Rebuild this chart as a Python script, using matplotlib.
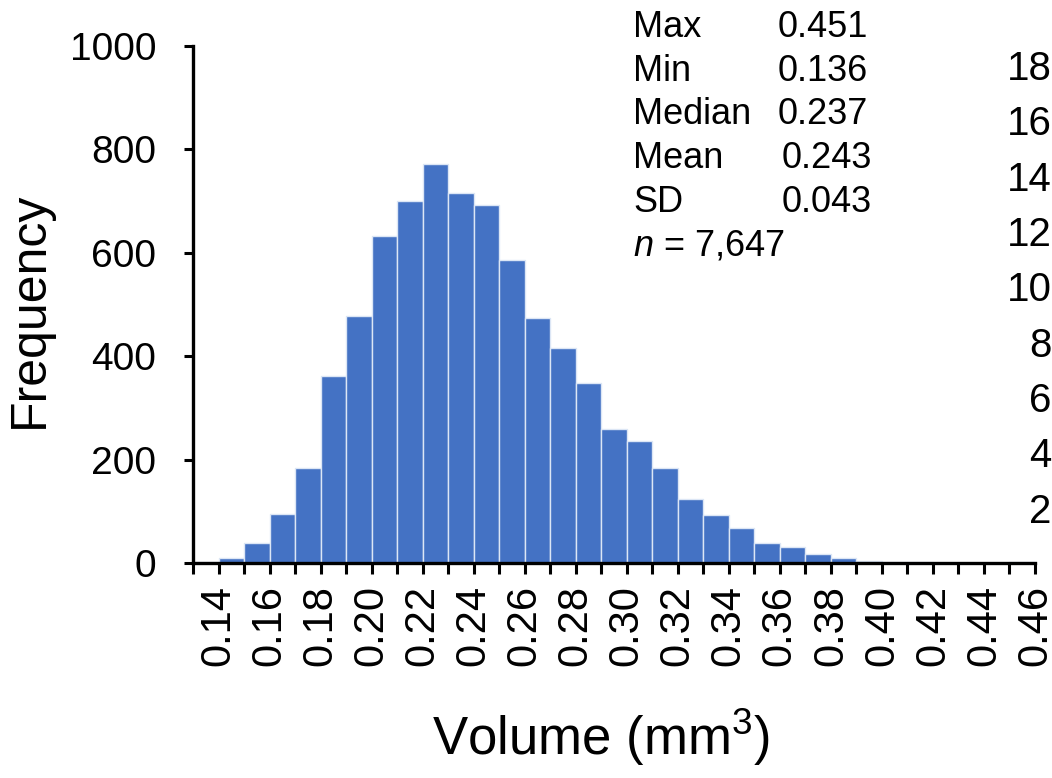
import matplotlib
matplotlib.use("Agg")
import matplotlib.pyplot as plt
from matplotlib.ticker import FixedLocator

plt.rcParams['font.family'] = ['Liberation Sans', 'DejaVu Sans']
plt.rcParams['mathtext.fontset'] = 'custom'
plt.rcParams['mathtext.rm'] = 'Liberation Sans'
plt.rcParams['mathtext.it'] = 'Liberation Sans:italic'

# ---- data ----
bin_lefts = [0.13, 0.14, 0.15, 0.16, 0.17, 0.18, 0.19, 0.20, 0.21, 0.22, 0.23,
             0.24, 0.25, 0.26, 0.27, 0.28, 0.29, 0.30, 0.31, 0.32, 0.33, 0.34,
             0.35, 0.36, 0.37, 0.38, 0.39, 0.40, 0.41, 0.42, 0.43, 0.44, 0.45]
counts = [1, 10, 38, 95, 184, 362, 478, 633, 701, 772, 716,
          692, 587, 474, 415, 348, 259, 236, 183, 124, 92, 67,
          38, 30, 17, 9, 4, 2, 1, 0, 0, 0, 1]
bin_width = 0.01
x_tick_labels = ["0.14", "0.16", "0.18", "0.20", "0.22", "0.24", "0.26", "0.28",
                 "0.30", "0.32", "0.34", "0.36", "0.38", "0.40", "0.42", "0.44", "0.46"]
x_tick_values = [0.14, 0.16, 0.18, 0.20, 0.22, 0.24, 0.26, 0.28,
                 0.30, 0.32, 0.34, 0.36, 0.38, 0.40, 0.42, 0.44, 0.46]
y_ticks = [0, 200, 400, 600, 800, 1000]
right_ticks = [2, 4, 6, 8, 10, 12, 14, 16, 18]
stat_names = ["Max", "Min", "Median", "Mean", "SD"]
stat_values = ["0.451", "0.136", "0.237", "0.243", "0.043"]
n_text = "$n$ = 7,647"

W, H = 1052, 778
fig = plt.figure(figsize=(W / 100, H / 100), dpi=100)
L, R, B, T = 193, 1035, 563, 46
ax = fig.add_axes([L / W, 1 - B / H, (R - L) / W, (B - T) / H])

ax.bar(bin_lefts, counts, width=bin_width, align='edge', color='#4472C4',
       edgecolor='#DCE6F5', linewidth=1.0, zorder=2)

ax.set_xlim(0.13, 0.46)
ax.set_ylim(0, 1000)

for s in ['top', 'right']:
    ax.spines[s].set_visible(False)
for s in ['left', 'bottom']:
    ax.spines[s].set_linewidth(2.4)
    ax.spines[s].set_zorder(3)

ax.set_yticks(y_ticks)
ax.set_yticklabels([str(v) for v in y_ticks])
ax.tick_params(axis='y', length=6.5, width=2.2, labelsize=28, pad=20, direction='out')

ax.xaxis.set_major_locator(FixedLocator(x_tick_values))
ax.set_xticklabels(x_tick_labels, rotation=90)
ax.xaxis.set_minor_locator(FixedLocator(bin_lefts))
ax.tick_params(axis='x', which='both', length=8, width=2.2, direction='out')
ax.tick_params(axis='x', which='major', labelsize=30, pad=8)

# right-hand axis (labels only)
ax2 = ax.twinx()
ax2.set_ylim(0, 18 * (B - T) / (B - 65))
ax2.set_yticks(right_ticks)
ax2.set_yticklabels([str(v) for v in right_ticks])
for s in ax2.spines.values():
    s.set_visible(False)
ax2.tick_params(axis='y', length=0, labelsize=29, pad=12)
for lab in ax2.get_yticklabels():
    lab.set_horizontalalignment('right')

# axis titles
fig.text(30 / W, 1 - 310 / H, "Frequency", rotation=90, ha='center', va='center', fontsize=36)
fig.text(601 / W, 1 - 737 / H, "Volume (mm$^{3}$)", ha='center', va='center', fontsize=38)

# stats box
baselines = [37, 81, 124.5, 168, 211.7]
val_x = [778, 778, 778, 782, 782]
for name, val, yb, vx in zip(stat_names, stat_values, baselines, val_x):
    fig.text(633 / W, 1 - yb / H, name, ha='left', va='baseline', fontsize=26)
    fig.text(vx / W, 1 - yb / H, val, ha='left', va='baseline', fontsize=26)
fig.text(633 / W, 1 - 255 / H, n_text, ha='left', va='baseline', fontsize=26)

fig.savefig("out.png", dpi=100)
